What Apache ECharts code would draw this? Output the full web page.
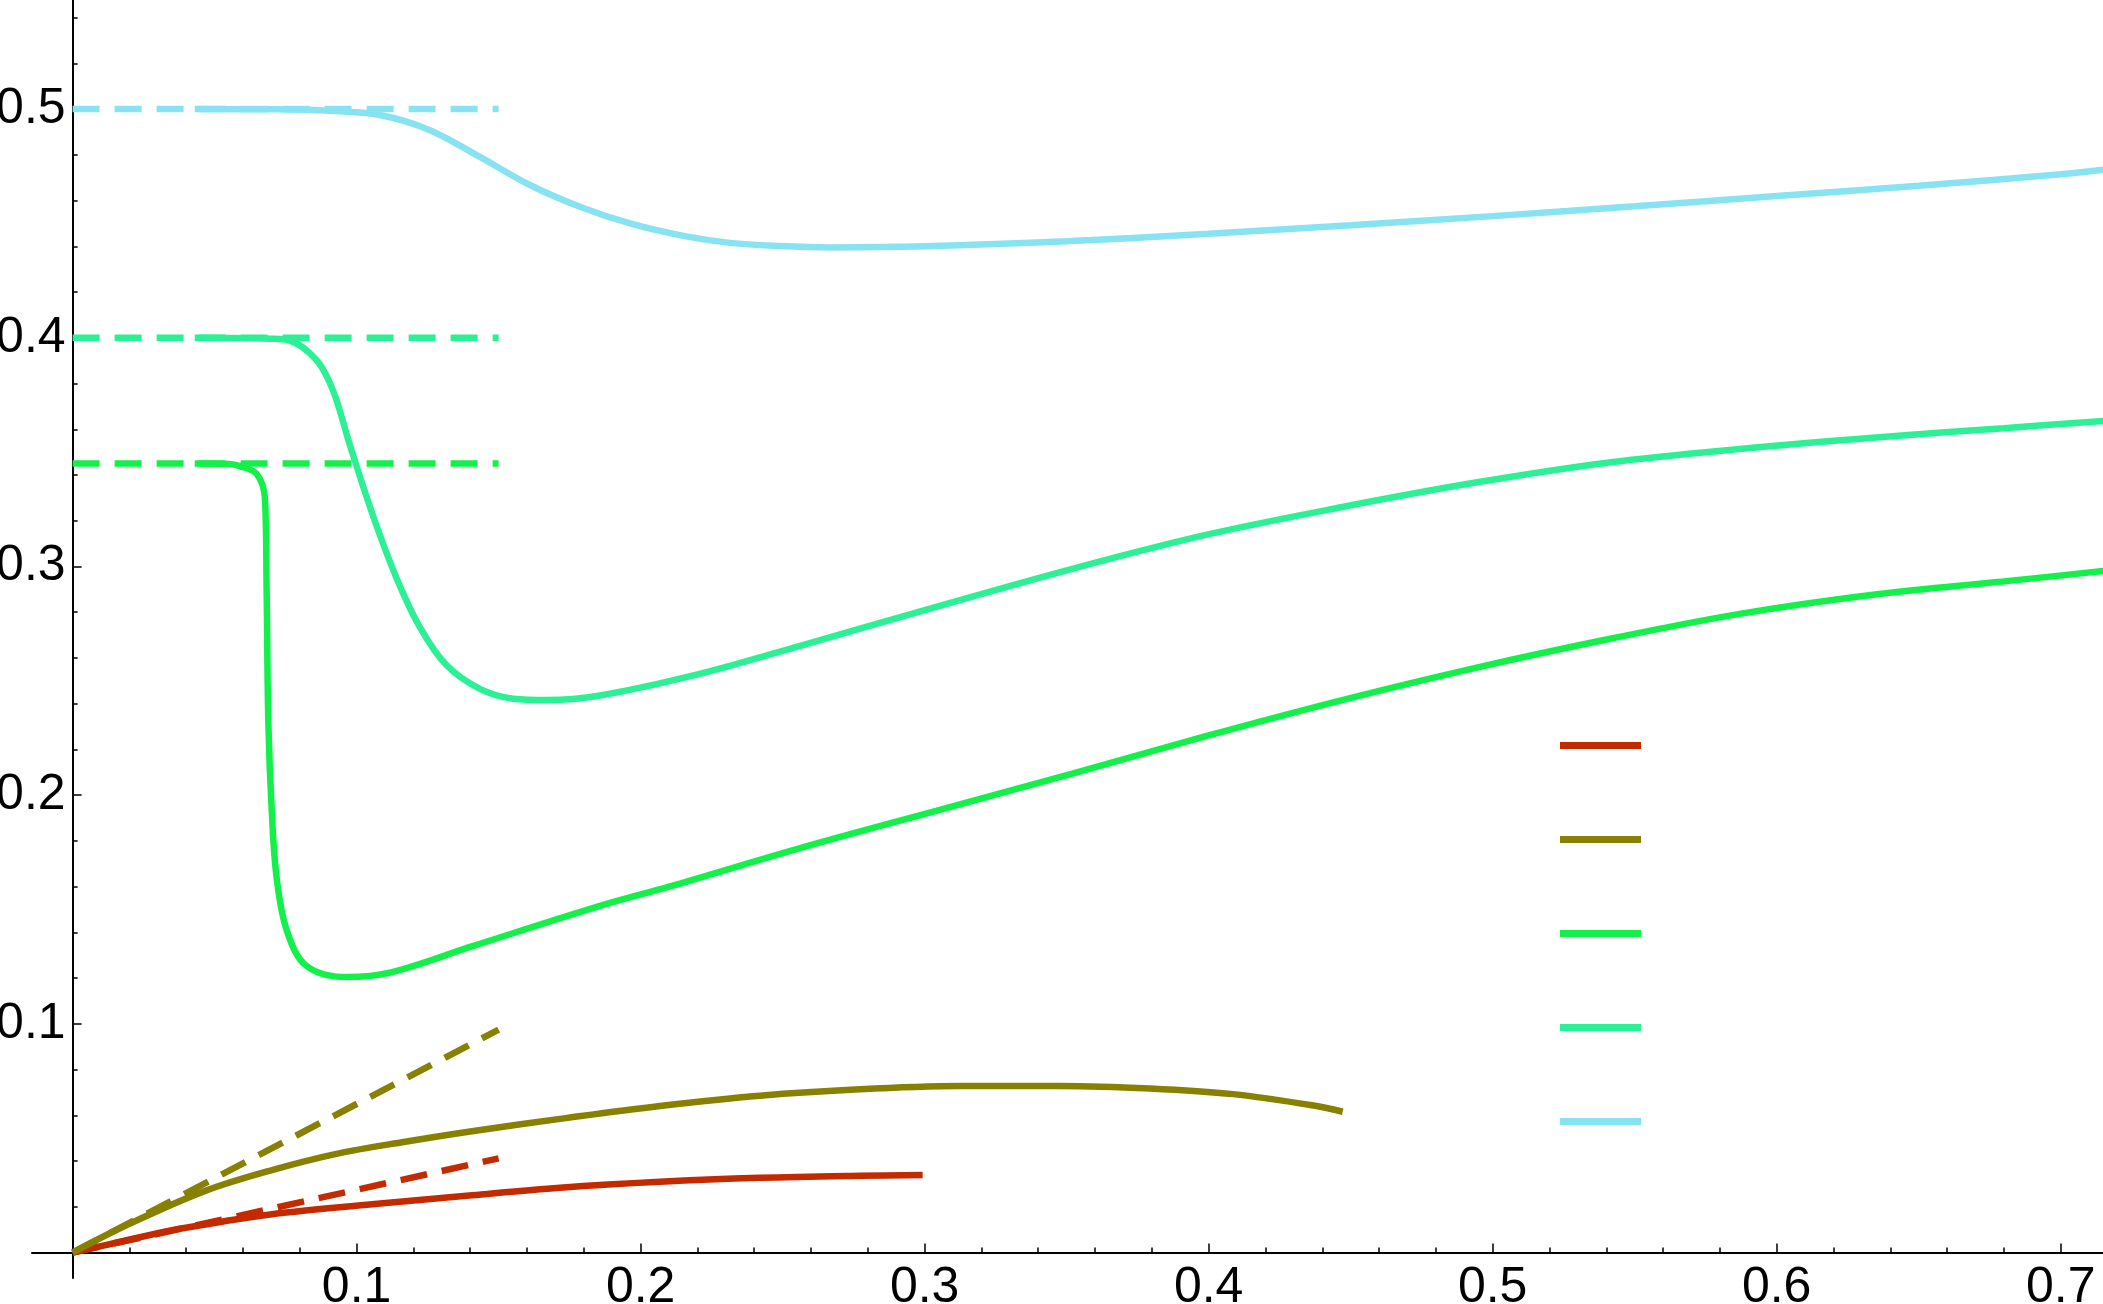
<!DOCTYPE html>
<html><head><meta charset="utf-8">
<script src="https://cdn.jsdelivr.net/npm/echarts@6/dist/echarts.min.js"></script>
<style>html,body{margin:0;padding:0;background:#fff}#c{width:2103px;height:1304px}</style>
</head><body><div id="c"></div>
<script>
// ---- tick labels ----
const xMajorTicks = [0.1, 0.2, 0.3, 0.4, 0.5, 0.6, 0.7];
const xMinorTicks = [0.02,0.04,0.06,0.08,0.12,0.14,0.16,0.18,0.22,0.24,0.26,0.28,0.32,0.34,0.36,0.38,0.42,0.44,0.46,0.48,0.52,0.54,0.56,0.58,0.62,0.64,0.66,0.68];
const yMajorTicks = [0.1, 0.2, 0.3, 0.4, 0.5];
const yMinorTicks = [0.02,0.04,0.06,0.08,0.12,0.14,0.16,0.18,0.22,0.24,0.26,0.28,0.32,0.34,0.36,0.38,0.42,0.44,0.46,0.48,0.52,0.54];

// ---- series names (legend shows only keys, no text) ----
const seriesNames = ['red', 'olive', 'green', 'teal', 'blue'];

// ---- solid curves [x, y] ----
const redSolid = [[0,0],[0.012,0.0034],[0.035,0.0098],[0.0526,0.0135],[0.0702,0.0168],[0.1054,0.0211],[0.1406,0.0251],[0.1716,0.0284],[0.2068,0.0310],[0.242,0.0327],[0.2772,0.0336],[0.2993,0.0339]];
const oliveSolid = [[0,0],[0.02,0.0126],[0.0467,0.0270],[0.0702,0.0361],[0.0937,0.0434],[0.1171,0.0485],[0.1406,0.0531],[0.1736,0.0588],[0.2068,0.0641],[0.242,0.0686],[0.2772,0.0714],[0.3124,0.0728],[0.3476,0.0729],[0.3793,0.0718],[0.4086,0.0693],[0.438,0.0641],[0.4472,0.0616]];
const greenSolid = [[0.043,0.345],[0.055,0.3448],[0.0589,0.3439],[0.0648,0.3405],[0.0677,0.3298],[0.0683,0.2909],[0.0689,0.2325],[0.0701,0.1935],[0.0718,0.1643],[0.0754,0.1409],[0.0824,0.1253],[0.0965,0.1205],[0.1117,0.1224],[0.1411,0.1341],[0.1857,0.1516],[0.210,0.1600],[0.258,0.1775],[0.305,0.1935],[0.352,0.2094],[0.399,0.2258],[0.447,0.2416],[0.494,0.2557],[0.541,0.2683],[0.588,0.2795],[0.636,0.2880],[0.68,0.2935],[0.715,0.2980]];
const tealSolid = [[0.043,0.4],[0.07,0.3996],[0.0765,0.3988],[0.0859,0.3902],[0.0918,0.3766],[0.0976,0.3532],[0.1058,0.3221],[0.1141,0.2948],[0.1223,0.2734],[0.1317,0.2568],[0.1434,0.2465],[0.1551,0.2422],[0.1669,0.2416],[0.1857,0.2436],[0.22,0.2528],[0.258,0.2660],[0.305,0.2827],[0.352,0.2990],[0.399,0.3138],[0.447,0.3260],[0.494,0.3367],[0.541,0.3455],[0.588,0.3515],[0.636,0.3565],[0.68,0.3605],[0.715,0.3636]];
const blueSolid = [[0.043,0.5],[0.07,0.4999],[0.0906,0.4993],[0.1082,0.4974],[0.1258,0.4908],[0.1434,0.4791],[0.161,0.4668],[0.1786,0.4573],[0.1963,0.4500],[0.2138,0.4449],[0.2315,0.4415],[0.2491,0.4401],[0.2667,0.4395],[0.30,0.4400],[0.35,0.4422],[0.40,0.4455],[0.45,0.4492],[0.50,0.4532],[0.55,0.4575],[0.60,0.4620],[0.65,0.4665],[0.70,0.4715],[0.715,0.4735]];

// ---- dashed reference lines [x, y] ----
const redDashed = [[0,0],[0.15,0.0412]];
const oliveDashed = [[0,0],[0.15,0.0975]];
const greenDashed = [[0,0.345],[0.15,0.345]];
const tealDashed = [[0,0.4],[0.15,0.4]];
const blueDashed = [[0,0.5],[0.15,0.5]];

const colors = ['#c32a00', '#878000', '#13f04a', '#2bf095', '#87e3f1'];
const solids = [redSolid, oliveSolid, greenSolid, tealSolid, blueSolid];
const dashes = [redDashed, oliveDashed, greenDashed, tealDashed, blueDashed];

const FONT = 'Liberation Sans';
const LW = 6.5;
const series = [];
dashes.forEach((d, i) => series.push({
  name: seriesNames[i] + ' asymptote', type: 'line', data: d, showSymbol: false, symbol: 'none',
  color: colors[i], lineStyle: { color: colors[i], width: LW, type: [27, 15], cap: 'butt' },
  xAxisIndex: 0, yAxisIndex: 0, silent: true, z: 2
}));
solids.forEach((d, i) => series.push({
  name: seriesNames[i], type: 'line', data: d, showSymbol: false, symbol: 'none',
  smooth: 0.35,
  color: colors[i], itemStyle: { color: colors[i] }, lineStyle: { color: colors[i], width: LW },
  xAxisIndex: 0, yAxisIndex: 0, silent: true, z: 3
}));

const W = 2103, H = 1304;
const G = { left: 32, right: 0, top: 0, bottom: 26 };
const XMIN = -0.0143, XMAX = 0.7149, YMIN = -0.0111, YMAX = 0.5477;
// axes cross at the origin: shift them from the grid edge to the zero of the other axis
const yAxisShift = -(0 - XMIN) / (XMAX - XMIN) * (W - G.left - G.right);
const xAxisShift = -(0 - YMIN) / (YMAX - YMIN) * (H - G.top - G.bottom);

const chart = echarts.init(document.getElementById('c'), null, { renderer: 'canvas' });
chart.setOption({
  animation: false,
  backgroundColor: '#fff',
  grid: Object.assign({ containLabel: false, outerBoundsMode: 'none' }, G),
  legend: {
    data: seriesNames, orient: 'vertical', left: 1555, top: 737,
    itemWidth: 81, itemHeight: 7, itemGap: 87, icon: 'rect',
    formatter: () => '', textStyle: { fontSize: 7 }, selectedMode: false
  },
  xAxis: [
    { type: 'value', min: XMIN, max: XMAX, position: 'bottom', offset: xAxisShift,
      axisLine: { show: true, onZero: false, lineStyle: { color: '#000', width: 2 } },
      axisTick: { show: true, inside: true, length: 9, customValues: xMajorTicks, lineStyle: { color: '#000', width: 1.5 } },
      axisLabel: { show: true, customValues: xMajorTicks, margin: 11, fontSize: 50, color: '#000', fontFamily: FONT },
      splitLine: { show: false } },
    { type: 'value', min: XMIN, max: XMAX, position: 'bottom', offset: xAxisShift,
      axisLine: { show: false, onZero: false },
      axisTick: { show: true, inside: true, length: 5, customValues: xMinorTicks, lineStyle: { color: '#000', width: 1.5 } },
      axisLabel: { show: false }, splitLine: { show: false } }
  ],
  yAxis: [
    { type: 'value', min: YMIN, max: YMAX, position: 'left', offset: yAxisShift,
      axisLine: { show: true, onZero: false, lineStyle: { color: '#000', width: 2 } },
      axisTick: { show: true, inside: true, length: 9, customValues: yMajorTicks, lineStyle: { color: '#000', width: 1.5 } },
      axisLabel: { show: true, customValues: yMajorTicks, margin: 7, fontSize: 50, color: '#000', fontFamily: FONT },
      splitLine: { show: false } },
    { type: 'value', min: YMIN, max: YMAX, position: 'left', offset: yAxisShift,
      axisLine: { show: false, onZero: false },
      axisTick: { show: true, inside: true, length: 5, customValues: yMinorTicks, lineStyle: { color: '#000', width: 1.5 } },
      axisLabel: { show: false }, splitLine: { show: false } }
  ],
  series: series
});
</script></body></html>
